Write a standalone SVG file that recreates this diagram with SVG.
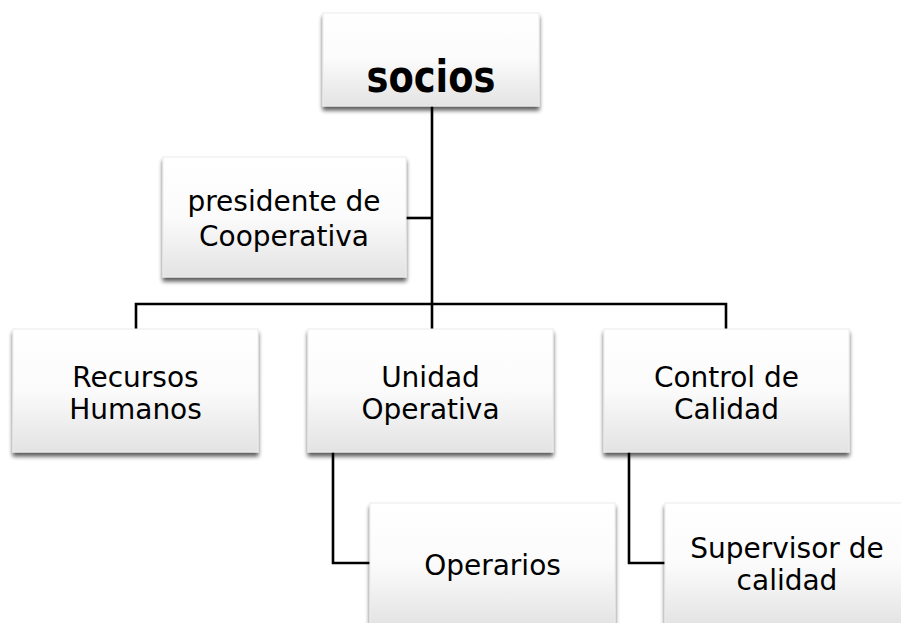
<svg xmlns="http://www.w3.org/2000/svg" width="901" height="623" viewBox="0 0 901 623">
<defs>
<linearGradient id="g" x1="0" y1="0" x2="0" y2="1">
<stop offset="0" stop-color="#ffffff"/>
<stop offset="0.5" stop-color="#fbfbfb"/>
<stop offset="1" stop-color="#e3e3e3"/>
</linearGradient>
<filter id="sh" x="-10%" y="-10%" width="120%" height="130%">
<feGaussianBlur in="SourceAlpha" stdDeviation="2.2"/>
<feOffset dx="0" dy="3.5" result="b"/>
<feComponentTransfer><feFuncA type="linear" slope="0.65"/></feComponentTransfer>
<feMerge><feMergeNode/><feMergeNode in="SourceGraphic"/></feMerge>
</filter>
</defs>
<style>
.box{fill:url(#g);stroke:#ececec;stroke-width:1;filter:url(#sh)}
.t{font-family:"DejaVu Sans",Verdana,sans-serif;font-size:28px;fill:#000;text-anchor:middle}
.b{font-family:"DejaVu Sans Condensed","DejaVu Sans",sans-serif;font-weight:bold;font-size:45px;fill:#000;text-anchor:middle}
.c{fill:none;stroke:#000;stroke-width:2.6}
</style>
<rect width="901" height="623" fill="#ffffff"/>
<g id="connectors">
<path class="c" d="M432,106 V329"/>
<path class="c" d="M406,218 H432"/>
<path class="c" d="M136,329 V304 H726 V329"/>
<path class="c" d="M333,452 V563 H370"/>
<path class="c" d="M629,452 V563 H665"/>
</g>
<g id="socios">
<rect class="box" x="323" y="13" width="216" height="93"/>
<text class="b" x="431" y="92" textLength="129" lengthAdjust="spacingAndGlyphs">socios</text>
</g>
<g id="presidente">
<rect class="box" x="163" y="157" width="243" height="120"/>
<text class="t" x="284" y="211">presidente de</text>
<text class="t" x="284" y="246">Cooperativa</text>
</g>
<g id="recursos">
<rect class="box" x="13" y="329" width="245" height="123"/>
<text class="t" x="135.5" y="387">Recursos</text>
<text class="t" x="135.5" y="419">Humanos</text>
</g>
<g id="unidad">
<rect class="box" x="308" y="329" width="245" height="123"/>
<text class="t" x="430.5" y="387">Unidad</text>
<text class="t" x="430.5" y="419">Operativa</text>
</g>
<g id="control">
<rect class="box" x="604" y="329" width="245" height="123"/>
<text class="t" x="726.5" y="387">Control de</text>
<text class="t" x="726.5" y="419">Calidad</text>
</g>
<g id="operarios">
<rect class="box" x="370" y="503" width="245" height="123"/>
<text class="t" x="492.5" y="575">Operarios</text>
</g>
<g id="supervisor">
<rect class="box" x="665" y="503" width="245" height="123"/>
<text class="t" x="787" y="558">Supervisor de</text>
<text class="t" x="787" y="590">calidad</text>
</g>
</svg>
